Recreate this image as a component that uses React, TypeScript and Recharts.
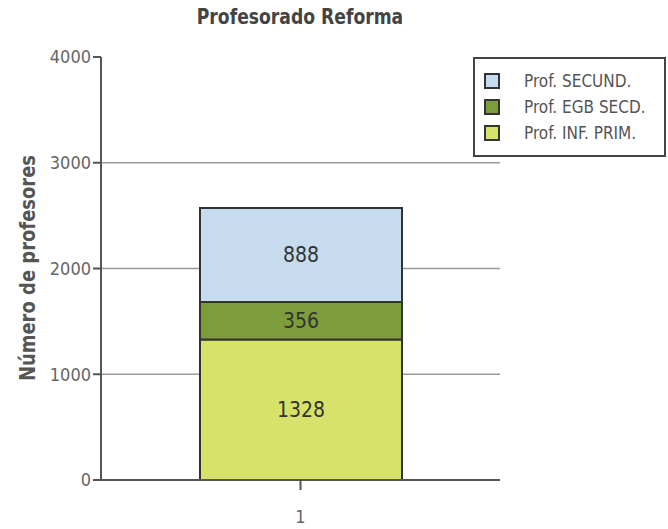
import { BarChart, Bar, XAxis, YAxis, CartesianGrid, LabelList } from 'recharts'

const categories = ['1']
const infPrim = [1328]
const egbSecd = [356]
const secund = [888]
const yTicks = [0, 1000, 2000, 3000, 4000]

const FONT = '"DejaVu Sans Condensed", "DejaVu Sans", sans-serif'

const data = categories.map((c, i) => ({
  name: c,
  infPrim: infPrim[i],
  egbSecd: egbSecd[i],
  secund: secund[i],
}))

// stack order, bottom first
const series = [
  { key: 'infPrim', name: 'Prof. INF. PRIM.', color: '#d6e26a' },
  { key: 'egbSecd', name: 'Prof. EGB SECD.', color: '#7d9c3c' },
  { key: 'secund', name: 'Prof. SECUND.', color: '#c6dbee' },
]

function LegendBox() {
  return (
    <div
      style={{
        position: 'absolute',
        left: 473,
        top: 57,
        width: 193,
        height: 100,
        boxSizing: 'border-box',
        border: '2px solid #444',
        background: '#fff',
        padding: '9px 0 0 9px',
        fontSize: 17,
        color: '#555',
      }}
    >
      {[...series].reverse().map((s) => (
        <div key={s.key} style={{ display: 'flex', alignItems: 'center', height: 26 }}>
          <span
            style={{
              display: 'inline-block',
              width: 12,
              height: 12,
              background: s.color,
              border: '2px solid #333',
              marginRight: 24,
            }}
          />
          <span style={{ whiteSpace: 'nowrap' }}>{s.name}</span>
        </div>
      ))}
    </div>
  )
}

export default function App() {
  return (
    <div
      style={{
        position: 'absolute',
        left: 0,
        top: 0,
        width: 668,
        height: 529,
        background: '#fff',
        fontFamily: FONT,
        fontStretch: 'condensed',
      }}
    >
      <div
        style={{
          position: 'absolute',
          left: 0,
          width: 600,
          top: 5,
          textAlign: 'center',
          fontWeight: 'bold',
          fontSize: 21,
          color: '#444',
          transform: 'scaleX(0.91)',
        }}
      >
        Profesorado Reforma
      </div>
      <div
        style={{
          position: 'absolute',
          left: 28,
          top: 268,
          transform: 'translate(-50%, -50%) rotate(-90deg) scaleX(0.95)',
          whiteSpace: 'nowrap',
          fontWeight: 'bold',
          fontSize: 21,
          color: '#555',
        }}
      >
        Número de profesores
      </div>
      <BarChart
        width={668}
        height={529}
        data={data}
        margin={{ top: 57, right: 168, bottom: 9, left: 41 }}
      >
        <CartesianGrid
          vertical={false}
          horizontalValues={[1000, 2000, 3000]}
          stroke="#999"
          strokeWidth={1.5}
        />
        <XAxis
          dataKey="name"
          axisLine={{ stroke: '#555', strokeWidth: 2 }}
          tickLine={{ stroke: '#555', strokeWidth: 2 }}
          tickSize={10}
          height={40}
          tick={{ fill: '#666', fontSize: 18, dy: 18 }}
        />
        <YAxis
          domain={[0, 4000]}
          ticks={yTicks}
          width={60}
          axisLine={{ stroke: '#555', strokeWidth: 2 }}
          tickLine={{ stroke: '#555', strokeWidth: 2 }}
          tickSize={8}
          tick={{ fill: '#666', fontSize: 18 }}
        />
        {series.map((s) => (
          <Bar
            key={s.key}
            dataKey={s.key}
            name={s.name}
            stackId="a"
            fill={s.color}
            stroke="#333"
            strokeWidth={2}
            barSize={202}
            isAnimationActive={false}
          >
            <LabelList dataKey={s.key} position="center" fill="#333" fontSize={21} />
          </Bar>
        ))}
      </BarChart>
      <LegendBox />
    </div>
  )
}
